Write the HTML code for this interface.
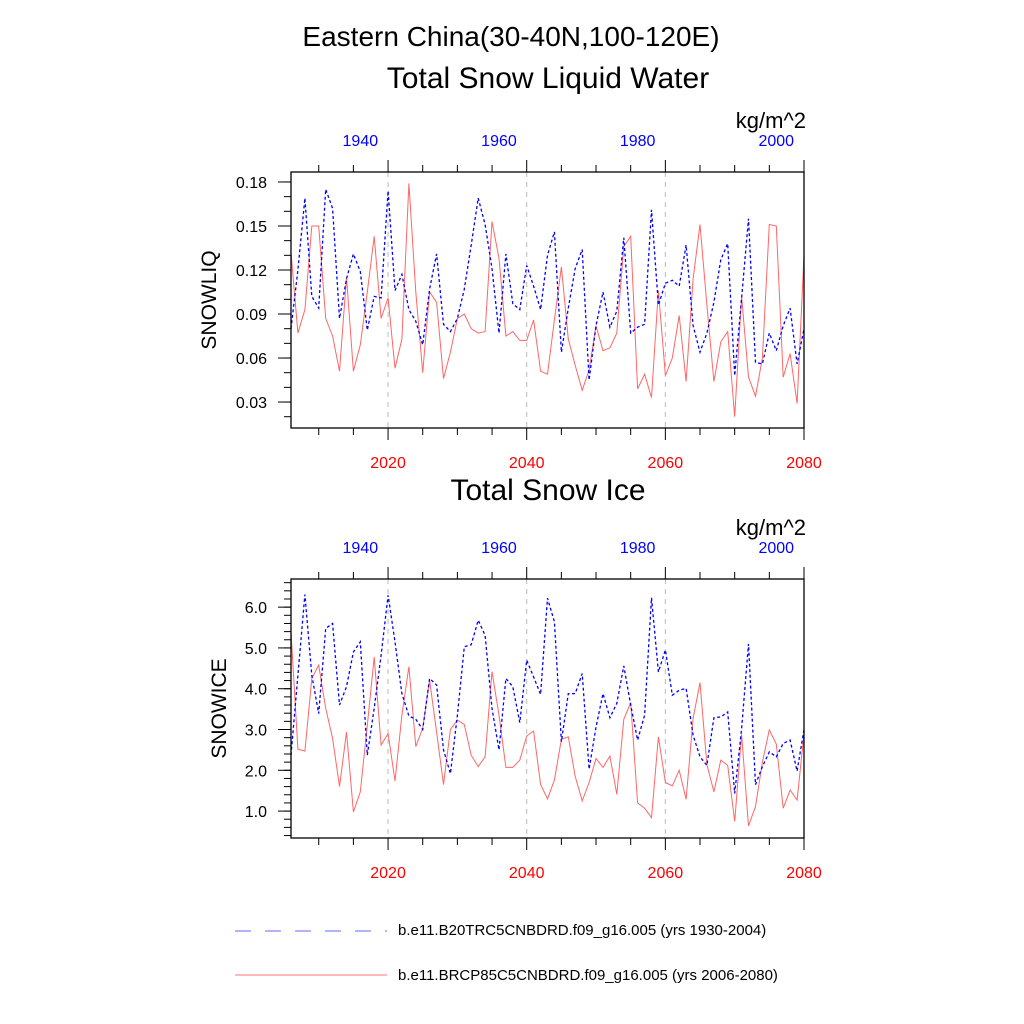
<!DOCTYPE html>
<html><head><meta charset="utf-8"><style>
body{margin:0;background:#fff}
svg{display:block;font-family:"Liberation Sans",sans-serif}
</style></head><body>
<svg id="chart" width="1024" height="1024" viewBox="0 0 1024 1024">
<text x="511" y="46" font-size="28" text-anchor="middle">Eastern China(30-40N,100-120E)</text>
<text x="548" y="88" font-size="30" text-anchor="middle">Total Snow Liquid Water</text>
<text x="548" y="500" font-size="30" text-anchor="middle">Total Snow Ice</text>
<g id="p1"></g>
<g id="p2"></g>
<g>
<line x1="235" y1="931" x2="387" y2="931" stroke="#6666ff" stroke-width="1" stroke-dasharray="16,14"/>
<text x="398" y="935" font-size="15">b.e11.B20TRC5CNBDRD.f09_g16.005 (yrs 1930-2004)</text>
<line x1="235" y1="975" x2="387" y2="975" stroke="#ff7777" stroke-width="1"/>
<text x="398" y="980" font-size="15">b.e11.BRCP85C5CNBDRD.f09_g16.005 (yrs 2006-2080)</text>
</g>
</svg>
<script>
const years = Array.from({length:75},(_,i)=>2006+i);
const liqRcp = [0.132,0.077,0.093,0.150,0.150,0.087,0.075,0.051,0.115,0.051,0.069,0.105,0.143,0.087,0.101,0.053,0.073,0.179,0.105,0.050,0.105,0.098,0.046,0.064,0.087,0.090,0.080,0.077,0.078,0.153,0.128,0.075,0.078,0.072,0.072,0.086,0.051,0.049,0.086,0.122,0.073,0.055,0.038,0.052,0.082,0.065,0.067,0.077,0.136,0.143,0.039,0.049,0.033,0.106,0.048,0.060,0.089,0.044,0.114,0.151,0.096,0.044,0.071,0.078,0.020,0.102,0.047,0.034,0.060,0.151,0.150,0.047,0.063,0.029,0.130];
const liqHist = [0.080,0.120,0.169,0.102,0.094,0.175,0.162,0.087,0.114,0.131,0.119,0.079,0.102,0.101,0.174,0.106,0.117,0.093,0.085,0.069,0.107,0.131,0.083,0.078,0.087,0.107,0.137,0.169,0.151,0.121,0.077,0.131,0.097,0.093,0.123,0.109,0.093,0.130,0.146,0.064,0.094,0.121,0.134,0.045,0.082,0.105,0.081,0.092,0.142,0.077,0.081,0.083,0.161,0.096,0.111,0.113,0.109,0.137,0.082,0.064,0.077,0.098,0.127,0.138,0.048,0.101,0.155,0.057,0.056,0.077,0.065,0.082,0.094,0.056,0.080];
const iceRcp = [5.4,2.52,2.47,4.25,4.58,3.52,2.78,1.60,2.94,0.98,1.47,3.1,4.78,2.62,2.90,1.74,3.35,4.54,2.58,3.03,4.21,2.94,1.65,3.0,3.23,3.12,2.37,2.09,2.33,4.42,3.35,2.07,2.07,2.25,2.84,2.96,1.65,1.3,1.76,2.76,2.82,1.85,1.25,1.70,2.29,2.07,2.35,1.41,3.25,3.66,1.20,1.07,0.84,2.82,1.70,1.62,2.0,1.29,3.27,4.15,2.14,1.47,2.25,2.12,0.75,2.88,0.64,1.11,2.2,2.99,2.64,1.07,1.52,1.27,2.9];
const iceHist = [2.37,4.33,6.31,4.33,3.39,5.48,5.6,3.6,4.05,4.9,5.15,2.37,3.52,4.82,6.29,5.15,3.88,3.33,3.25,3.0,4.25,4.09,2.5,1.92,3.35,5.03,5.08,5.68,5.31,3.52,2.5,4.25,4.05,3.17,4.7,4.29,3.86,6.22,5.64,2.70,3.88,3.88,4.37,2.03,3.06,3.88,3.29,3.64,4.56,3.6,2.74,3.35,6.23,4.41,4.95,3.84,3.96,4.01,2.86,2.33,2.12,3.29,3.31,3.43,1.43,3.02,5.1,1.65,2.09,2.45,2.33,2.66,2.74,1.98,3.0];
const bottomTicks = [2020,2040,2060,2080];
const topTicks = [1940,1960,1980,2000];
const liqTicks = [0.03,0.06,0.09,0.12,0.15,0.18];
const iceTicks = [1,2,3,4,5,6];
const NS='http://www.w3.org/2000/svg';
function mk(parent,tag,attrs,txt){const e=document.createElementNS(NS,tag);for(const k in attrs)e.setAttribute(k,attrs[k]);if(txt!==undefined)e.textContent=txt;parent.appendChild(e);return e;}
function panel(g,cfg){
  const L=291,R=804,T=cfg.top,B=cfg.bot;
  const x=yr=>L+(yr-2006)*(R-L)/74;
  const y=v=>B-(v-cfg.ymin)*(B-T)/(cfg.ymax-cfg.ymin);
  for(const t of bottomTicks.slice(0,3)){
    const l=mk(g,'line',{x1:x(t),x2:x(t),y1:T,y2:B,stroke:'#bbb','stroke-dasharray':'5,5'});
    
    
  }
  for(let yr=2010;yr<=2080;yr+=5){
    const len=(yr%20===0)?12:7;
    mk(g,'line',{x1:x(yr),x2:x(yr),y1:B,y2:B+len,stroke:'#000'});
    mk(g,'line',{x1:x(yr),x2:x(yr),y1:T,y2:T-len,stroke:'#000'});
  }
  for(const t of bottomTicks){
    const tx=mk(g,'text',{x:x(t),y:B+40,'font-size':16,fill:'#ff0000','text-anchor':'middle'},String(t));
    
    
  }
  for(const t of topTicks){
    const tx=mk(g,'text',{x:x(t+76),y:T-26,'font-size':16,fill:'#0000ff','text-anchor':'middle'},String(t));
    
    
  }
  for(let v=cfg.ymin-cfg.ymin%cfg.minor;v<=cfg.ymax+1e-9;v+=cfg.minor){
    if(v<cfg.ymin)continue;
    mk(g,'line',{x1:L-7,x2:L,y1:y(v),y2:y(v),stroke:'#000'});
  }
  for(const t of cfg.ticks){
    mk(g,'line',{x1:L-13,x2:L,y1:y(t),y2:y(t),stroke:'#000'});
    const tx=mk(g,'text',{x:L-24,y:y(t)+6,'font-size':16,'text-anchor':'end'},cfg.fmt(t));
    
    
  }
  const yt=mk(g,'text',{x:0,y:0,'font-size':21,'text-anchor':'middle',transform:`translate(${cfg.titleX},${(T+B)/2}) rotate(-90)`},cfg.title);
  
  
  const u=mk(g,'text',{x:806,y:T-44,'font-size':22,'text-anchor':'end'},'kg/m^2');
  
  
  const pts=a=>a.map((v,i)=>x(years[i]).toFixed(1)+','+y(v).toFixed(1)).join(' ');
  const r=mk(g,'polyline',{points:pts(cfg.red),fill:'none',stroke:'#ff6666','stroke-width':1});
  
  
  const b=mk(g,'polyline',{points:pts(cfg.blue),fill:'none',stroke:'#0000ff','stroke-width':1.3,'stroke-dasharray':'3,2.5'});
  
  
  const fr=mk(g,'rect',{x:L,y:T,width:R-L,height:B-T,fill:'none',stroke:'#000','stroke-width':1.3});
  
  
}
panel(document.getElementById('p1'),{top:172,bot:428,ymin:0.0123,ymax:0.1868,ticks:liqTicks,minor:0.01,fmt:v=>v.toFixed(2),title:'SNOWLIQ',titleX:216,red:liqRcp,blue:liqHist});
panel(document.getElementById('p2'),{top:579,bot:838,ymin:0.34,ymax:6.69,ticks:iceTicks,minor:0.2,fmt:v=>v.toFixed(1),title:'SNOWICE',titleX:226,red:iceRcp,blue:iceHist});
</script>
</body></html>
